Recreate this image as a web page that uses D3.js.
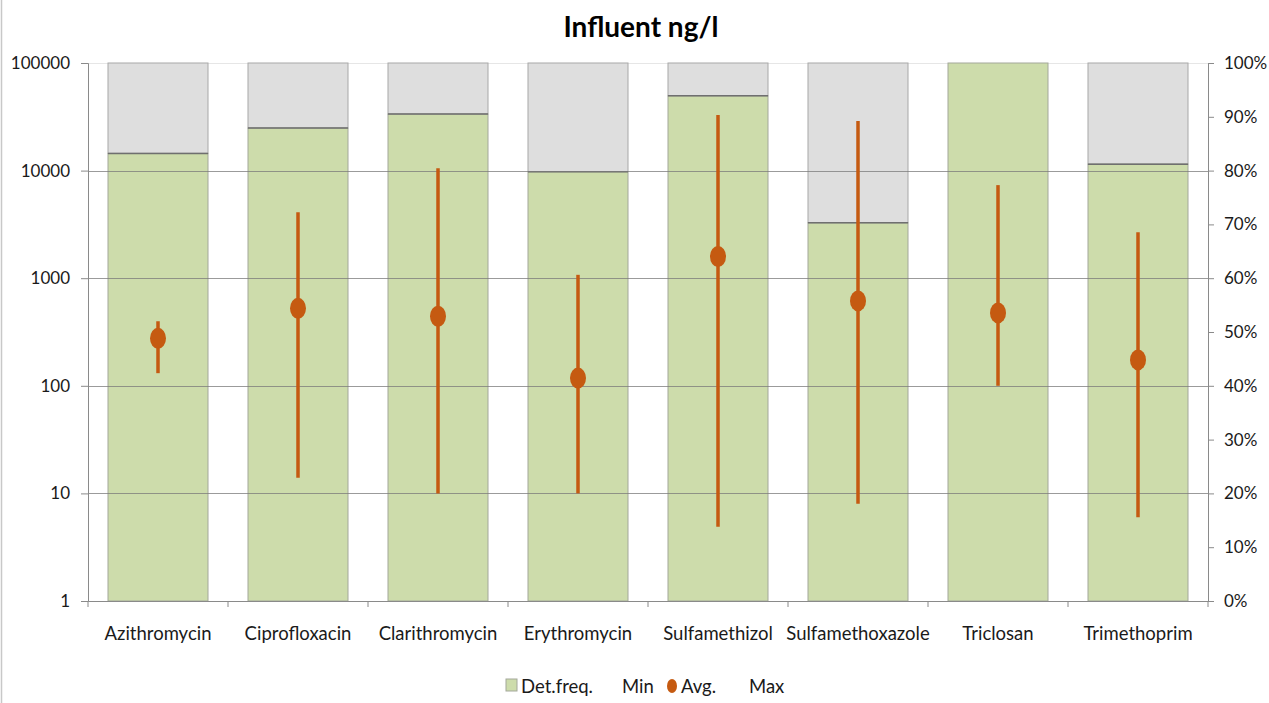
<!DOCTYPE html>
<html>
<head>
<meta charset="utf-8">
<script src="https://cdn.jsdelivr.net/npm/d3@7"></script>
<style>
  html, body { margin: 0; padding: 0; background: #fff; }
  svg { display: block; }
  text { font-family: Lato, "Open Sans", sans-serif; fill: #1a1a1a; }
</style>
</head>
<body>
<svg id="chart" width="1269" height="703"></svg>
<script>
const categories = ["Azithromycin", "Ciprofloxacin", "Clarithromycin", "Erythromycin", "Sulfamethizol", "Sulfamethoxazole", "Triclosan", "Trimethoprim"];
const detFreq = [0.832, 0.879, 0.905, 0.798, 0.939, 0.703, 1.0, 0.812];
const minVals = [131, 14, 10, 10, 4.9, 8, 100, 6];
const avgVals = [276, 525, 443, 118, 1590, 615, 476, 174];
const maxVals = [398, 4100, 10500, 1075, 32900, 28900, 7330, 2670];
const leftTicks = [1, 10, 100, 1000, 10000, 100000];
const rightTicks = [0, 0.1, 0.2, 0.3, 0.4, 0.5, 0.6, 0.7, 0.8, 0.9, 1.0];
const legendItems = ["Det.freq.", "Min", "Avg.", "Max"];

const svg = d3.select("#chart");
const W = 1269, H = 703;
const m = { left: 88, right: 61, top: 63, bottom: 102 };
const x0 = m.left, x1 = W - m.right, y0 = m.top, y1 = H - m.bottom;

const green = "#cddcab", grey = "#dedede", orange = "#c55a11", axisCol = "#8a8a8a";
const FONT = "Lato, 'Open Sans', sans-serif";

const x = d3.scaleBand().domain(categories).range([x0, x1]).paddingInner(40 / 140).paddingOuter(20 / 140);
const yL = d3.scaleLog().domain([1, 100000]).range([y1, y0]);
const yR = d3.scaleLinear().domain([0, 1]).range([y1, y0]);

// outer border line on left
svg.append("line").attr("x1", 1.5).attr("x2", 1.5).attr("y1", 0).attr("y2", H).attr("stroke", "#c8c8c8").attr("stroke-width", 1.5);

// title
svg.append("text").attr("x", 641).attr("y", 37).attr("text-anchor", "middle")
  .style("font-size", "28px").style("font-weight", "bold").style("fill", "#000").text("Influent ng/l");

// top plot border
svg.append("line").attr("x1", x0).attr("x2", x1).attr("y1", y0 + 0.5).attr("y2", y0 + 0.5).attr("stroke", "#e6e6e6");

// bars: grey remainder then green
const bars = svg.append("g");
categories.forEach((c, i) => {
  const bx = x(c), bw = x.bandwidth();
  bars.append("rect").attr("x", bx).attr("y", yR(1)).attr("width", bw).attr("height", yR(detFreq[i]) - yR(1))
    .attr("fill", grey).attr("stroke", "#a8a8a8").attr("stroke-width", 1);
  bars.append("rect").attr("x", bx).attr("y", yR(detFreq[i])).attr("width", bw).attr("height", yR(0) - yR(detFreq[i]))
    .attr("fill", green).attr("stroke", "#a3a89a").attr("stroke-width", 1);
  if (detFreq[i] < 1) {
    bars.append("line").attr("x1", bx).attr("x2", bx + bw).attr("y1", yR(detFreq[i])).attr("y2", yR(detFreq[i]))
      .attr("stroke", "#6f6f6f").attr("stroke-width", 1.5);
  }
});

// gridlines (over bars, semi-transparent)
svg.append("g").selectAll("line").data(leftTicks.slice(1, -1)).join("line")
  .attr("x1", x0).attr("x2", x1).attr("y1", d => Math.round(yL(d)) + 0.5).attr("y2", d => Math.round(yL(d)) + 0.5)
  .attr("stroke", "#7a7a7a").attr("stroke-opacity", 0.75).attr("stroke-width", 1.2);

// left axis
const gL = svg.append("g").attr("transform", `translate(${x0},0)`)
  .call(d3.axisLeft(yL).tickValues(leftTicks).tickFormat(d3.format("d")).tickSize(7).tickPadding(11));
gL.select(".domain").attr("stroke", axisCol);
gL.selectAll(".tick line").attr("stroke", axisCol);
gL.selectAll("text").style("font-size", "17px").style("font-family", FONT).attr("fill", "#1a1a1a");

// right axis
const gR = svg.append("g").attr("transform", `translate(${x1},0)`)
  .call(d3.axisRight(yR).tickValues(rightTicks).tickFormat(d3.format(".0%")).tickSize(6).tickPadding(10));
gR.select(".domain").attr("stroke", axisCol);
gR.selectAll(".tick line").attr("stroke", axisCol);
gR.selectAll("text").style("font-size", "17px").style("font-family", FONT).attr("fill", "#1a1a1a");

// bottom axis with ticks at band boundaries
const gB = svg.append("g").attr("transform", `translate(0,${y1})`)
  .call(d3.axisBottom(x).tickSize(0).tickPadding(26));
gB.select(".domain").attr("stroke", axisCol);
gB.selectAll("text").style("font-size", "18.5px").style("font-family", FONT).attr("fill", "#1a1a1a");
const bounds = categories.map(c => x(c) - x.step() * x.paddingInner() / 2).concat([x1]);
svg.append("g").selectAll("line").data(bounds).join("line")
  .attr("x1", d => d).attr("x2", d => d).attr("y1", y1).attr("y2", y1 + 6).attr("stroke", axisCol);

// min-max lines and avg markers
const marks = svg.append("g");
categories.forEach((c, i) => {
  const cx = x(c) + x.bandwidth() / 2;
  marks.append("line").attr("x1", cx).attr("x2", cx).attr("y1", yL(minVals[i])).attr("y2", yL(maxVals[i]))
    .attr("stroke", orange).attr("stroke-width", 3.5);
  marks.append("ellipse").attr("cx", cx).attr("cy", yL(avgVals[i])).attr("rx", 8).attr("ry", 10.5).attr("fill", orange);
});

// legend
const lg = svg.append("g").style("font-size", "18.5px");
lg.append("rect").attr("x", 506).attr("y", 679).attr("width", 11).attr("height", 12).attr("fill", green).attr("stroke", "#a3a89a");
lg.append("text").attr("x", 521).attr("y", 693).text(legendItems[0]);
lg.append("text").attr("x", 622).attr("y", 693).text(legendItems[1]);
lg.append("ellipse").attr("cx", 672).attr("cy", 686).attr("rx", 5).attr("ry", 7).attr("fill", orange);
lg.append("text").attr("x", 681).attr("y", 693).text(legendItems[2]);
lg.append("text").attr("x", 749).attr("y", 693).text(legendItems[3]);
</script>
</body>
</html>
